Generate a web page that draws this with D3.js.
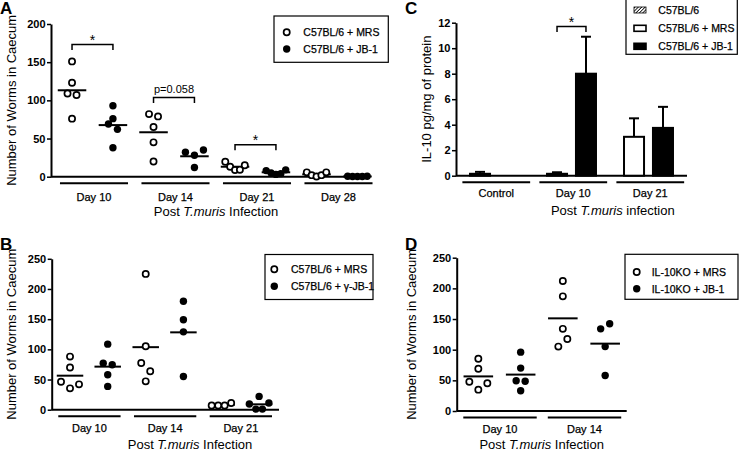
<!DOCTYPE html>
<html><head><meta charset="utf-8">
<script src="https://cdn.jsdelivr.net/npm/d3@7"></script>
<style>
body{margin:0;background:#fff}
svg{display:block}
text{font-family:"Liberation Sans",Arial,Helvetica,sans-serif;fill:#000}
</style>
</head><body>
<svg id="c" width="740" height="452"></svg>
<script>
// ---------- DATA ----------
// Panel A
const daysA = ["Day 10", "Day 14", "Day 21", "Day 28"];
const seriesA = ["C57BL/6 + MRS", "C57BL/6 + JB-1"];
const mrsA = [[151, 123, 109, 107, 76], [82, 79, 65, 45, 20], [19.6, 13, 8.7, 9, 15], [5.7, 2, 0.3, 2, 5.7]];
const jbA = [[93, 76, 69, 62, 38], [32, 28, 35, 12], [8, 5, 3, 4, 9], [0.5, 0.2, 0.2, 0.2, 0.5]];
const sigA = [{group: 0, level: 173, label: "*"}, {group: 1, level: 103.6, label: "p=0.058"}, {group: 2, level: 42, label: "*"}];
const ticksA = [0, 50, 100, 150, 200];

// Panel B
const daysB = ["Day 10", "Day 14", "Day 21"];
const seriesB = ["C57BL/6 + MRS", "C57BL/6 + \u03b3-JB-1"];
const mrsB = [[88, 70, 46.4, 35.4, 42], [225, 105, 77.4, 63.6, 47], [7, 7, 7, 11]];
const jbB = [[108.6, 77, 74.5, 58, 38.6], [179.6, 149, 129, 55], [9.5, 22, 1, 1, 11]];
const ticksB = [0, 50, 100, 150, 200, 250];

// Panel C
const groupsC = ["Control", "Day 10", "Day 21"];
const seriesC = ["C57BL/6", "C57BL/6 + MRS", "C57BL/6 + JB-1"];
const barsC = [
  {group: "Control", series: "C57BL/6", value: 0.15, err: 0.15},
  {group: "Day 10", series: "C57BL/6 + MRS", value: 0.15, err: 0.12},
  {group: "Day 10", series: "C57BL/6 + JB-1", value: 8.0, err: 2.9},
  {group: "Day 21", series: "C57BL/6 + MRS", value: 3.05, err: 1.45},
  {group: "Day 21", series: "C57BL/6 + JB-1", value: 3.75, err: 1.65}
];
const sigC = [{group: "Day 10", level: 11.7, label: "*"}];
const ticksC = [0, 2, 4, 6, 8, 10, 12];

// Panel D
const daysD = ["Day 10", "Day 14"];
const seriesD = ["IL-10KO + MRS", "IL-10KO + JB-1"];
const mrsD = [[85.3, 69, 47.8, 34.8, 45.2], [212, 187, 134, 105, 117.5]];
const jbD = [[96, 70, 49.4, 48.4, 33], [134, 142.4, 105, 58]];
const ticksD = [0, 50, 100, 150, 200, 250];

// ---------- DRAWING ----------
const FONT = '"Liberation Sans", Arial, Helvetica, sans-serif';
const svg = d3.select("#c");
const defs = svg.append("defs");
const pat = defs.append("pattern").attr("id", "hatch").attr("patternUnits", "userSpaceOnUse")
  .attr("width", 2.4).attr("height", 2.4).attr("patternTransform", "rotate(45)");
pat.append("rect").attr("width", 2.4).attr("height", 2.4).attr("fill", "#fff");
pat.append("line").attr("x1", 0).attr("y1", 0).attr("x2", 0).attr("y2", 2.4).attr("stroke", "#000").attr("stroke-width", 1.6);

function yAxis(x, y, ticks) {
  const ax = d3.axisLeft(y).tickValues(ticks).tickSize(4).tickSizeOuter(0).tickPadding(1.5);
  const a = svg.append("g").attr("transform", `translate(${x},0)`).call(ax);
  a.attr("font-family", FONT);
  a.select(".domain").attr("stroke", "#000").attr("stroke-width", 2);
  a.selectAll(".tick line").attr("stroke", "#000").attr("stroke-width", 1.5);
  a.selectAll(".tick text").attr("font-size", 11).attr("font-weight", "bold").attr("fill", "#000");
}

function titleText(x, y, word) {
  const t = svg.append("text").attr("x", x).attr("y", y).attr("text-anchor", "middle").attr("font-size", 13);
  t.append("tspan").text("Post ");
  t.append("tspan").attr("font-style", "italic").text("T.muris");
  t.append("tspan").text(" " + word);
}

function yTitle(x, y, txt) {
  svg.append("text").attr("transform", `translate(${x},${y}) rotate(-90)`)
    .attr("text-anchor", "middle").attr("font-size", 13).text(txt);
}

function letter(x, y, L) {
  svg.append("text").attr("x", x).attr("y", y).attr("font-size", 17).attr("font-weight", "bold").text(L);
}

function groupLines(xg, groups, frac, lineY, labelY) {
  groups.forEach(gname => {
    const x0 = xg(gname), bw = xg.bandwidth();
    svg.append("line").attr("x1", x0 + frac[0] * bw).attr("x2", x0 + frac[1] * bw)
      .attr("y1", lineY).attr("y2", lineY).attr("stroke", "#000").attr("stroke-width", 2);
    svg.append("text").attr("x", x0 + (frac[0] + frac[1]) / 2 * bw).attr("y", labelY)
      .attr("text-anchor", "middle").attr("font-size", 11)
      .attr("stroke", "#000").attr("stroke-width", 0.25).text(gname);
  });
}

// arrange points in rows like GraphPad scatter
function swarm(values, y, cx) {
  const T = 9, s0 = 9, maxSpan = 19.5;
  const pts = values.map((v, i) => ({v, i, y: y(v)}));
  const sorted = pts.slice().sort((a, b) => b.y - a.y);
  const rows = [];
  let cur = null;
  sorted.forEach(p => {
    if (cur && cur.first - p.y < T) cur.pts.push(p);
    else { cur = {first: p.y, pts: [p]}; rows.push(cur); }
  });
  rows.forEach(r => {
    r.pts.sort((a, b) => a.i - b.i);
    const n = r.pts.length;
    const sp = n > 1 ? Math.min(s0, maxSpan / (n - 1)) : 0;
    r.pts.forEach((p, k) => { p.x = cx + (k - (n - 1) / 2) * sp; });
  });
  return pts;
}

function drawPoint(x, y, open) {
  if (open) svg.append("circle").attr("cx", x).attr("cy", y).attr("r", 3.1)
    .attr("fill", "#fff").attr("stroke", "#000").attr("stroke-width", 1.7);
  else svg.append("circle").attr("cx", x).attr("cy", y).attr("r", 3.7).attr("fill", "#000");
}

function legendBox(L, names, kind) {
  svg.append("rect").attr("x", L.x0).attr("y", L.y0).attr("width", L.x1 - L.x0).attr("height", L.y1 - L.y0)
    .attr("fill", "#fff").attr("stroke", "#000").attr("stroke-width", 1.2);
  names.forEach((nm, i) => {
    const ry = L.rows[i];
    if (kind === "dots") drawPoint(L.symX, ry, i === 0);
    else {
      const fills = ["url(#hatch)", "#fff", "#000"];
      svg.append("rect").attr("x", L.symX - 6).attr("y", ry - 3).attr("width", 12).attr("height", 6)
        .attr("fill", fills[i]).attr("stroke", "#000").attr("stroke-width", i === 0 ? 0.8 : 1.6);
    }
    svg.append("text").attr("x", L.textX).attr("y", ry + 3.8).attr("font-size", 10.5)
      .attr("stroke", "#000").attr("stroke-width", 0.25).text(nm);
  });
}

function bracket(xa, xb, yb, label) {
  svg.append("path").attr("d", `M${xa},${yb + 5.5}V${yb}H${xb}V${yb + 5.5}`)
    .attr("fill", "none").attr("stroke", "#000").attr("stroke-width", 1.5);
  const star = label === "*";
  svg.append("text").attr("x", (xa + xb) / 2).attr("y", star ? yb + 0.5 : yb - 4.5)
    .attr("text-anchor", "middle").attr("font-size", star ? 14 : 11).text(label);
}

function scatterPanel(c) {
  const y = d3.scaleLinear().domain([0, c.ticks[c.ticks.length - 1]]).range(c.yRange);
  const xg = d3.scaleBand().domain(c.groups).range(c.band);
  const bw = xg.bandwidth();
  const colX = (gi, s) => xg(c.groups[gi]) + c.colFrac[s] * bw;
  // x axis
  svg.append("line").attr("x1", c.axisX).attr("x2", c.axisEnd).attr("y1", y(0)).attr("y2", y(0))
    .attr("stroke", "#000").attr("stroke-width", 2);
  yAxis(c.axisX, y, c.ticks);
  groupLines(xg, c.groups, c.lineFrac, y(0) + 6.5, c.labelY);
  [c.open, c.filled].forEach((series, s) => {
    series.forEach((vals, gi) => {
      const cx = colX(gi, s);
      const m = d3.mean(vals);
      const w = 0.7 * bw / 2;
      svg.append("line").attr("x1", cx - w / 2).attr("x2", cx + w / 2).attr("y1", y(m)).attr("y2", y(m))
        .attr("stroke", "#000").attr("stroke-width", 2);
      swarm(vals, y, cx).forEach(p => drawPoint(p.x, p.y, s === 0));
    });
  });
  (c.sig || []).forEach(sg => bracket(colX(sg.group, 0), colX(sg.group, 1), y(sg.level), sg.label));
  titleText(c.titleX, c.titleY, "Infection");
  yTitle(c.yTitleX, (c.yRange[0] + c.yRange[1]) / 2, "Number of Worms in Caecum");
  letter(c.letterX, c.letterY, c.letter);
  legendBox(c.legend, c.names, "dots");
}

// Panel A
scatterPanel({
  letter: "A", letterX: 0, letterY: 14,
  ticks: ticksA, yRange: [176.7, 24], axisX: 51, axisEnd: 370,
  groups: daysA, band: [51, 377], colFrac: [0.258, 0.76], lineFrac: [0.11, 0.945],
  labelY: 201, titleX: 216, titleY: 216.3, yTitleX: 15.5,
  open: mrsA, filled: jbA, names: seriesA, sig: sigA,
  legend: {x0: 274, y0: 16, x1: 388.3, y1: 62.3, symX: 286.7, rows: [32.3, 49], textX: 303.3}
});

// Panel B
scatterPanel({
  letter: "B", letterX: 0, letterY: 250,
  ticks: ticksB, yRange: [409.7, 258.8], axisX: 51.7, axisEnd: 279,
  groups: daysB, band: [51.7, 278.8], colFrac: [0.242, 0.74], lineFrac: [0.087, 0.91],
  labelY: 431.7, titleX: 190, titleY: 448.5, yTitleX: 15.5,
  open: mrsB, filled: jbB, names: seriesB,
  legend: {x0: 265, y0: 254.5, x1: 373, y1: 299.5, symX: 274.3, rows: [269.3, 286.3], textX: 291}
});

// Panel D
scatterPanel({
  letter: "D", letterX: 405, letterY: 250,
  ticks: ticksD, yRange: [411, 257.7], axisX: 456.7, axisEnd: 626.7,
  groups: daysD, band: [456.7, 625.7], colFrac: [0.256, 0.757], lineFrac: [0.078, 0.947],
  labelY: 433.3, titleX: 541.7, titleY: 448.5, yTitleX: 416,
  open: mrsD, filled: jbD, names: seriesD,
  legend: {x0: 625, y0: 254.3, x1: 738, y1: 299.3, symX: 636.7, rows: [272, 288.7], textX: 651.7}
});

// Panel C
(function () {
  const y = d3.scaleLinear().domain([0, 12]).range([175.7, 22.7]);
  const xg = d3.scaleBand().domain(groupsC).range([457, 688]);
  const bw = xg.bandwidth();
  const slot = s => (s === seriesC[2] ? 1 : 0);
  const slotFrac = [0.169, 0.545], barW = 0.26 * bw;
  const fills = {"C57BL/6": "url(#hatch)", "C57BL/6 + MRS": "#fff", "C57BL/6 + JB-1": "#000"};
  svg.append("line").attr("x1", 456).attr("x2", 687).attr("y1", y(0)).attr("y2", y(0))
    .attr("stroke", "#000").attr("stroke-width", 2);
  barsC.forEach(b => {
    const x0 = xg(b.group) + slotFrac[slot(b.series)] * bw;
    const cx = x0 + barW / 2;
    svg.append("line").attr("x1", cx).attr("x2", cx).attr("y1", y(b.value)).attr("y2", y(b.value + b.err))
      .attr("stroke", "#000").attr("stroke-width", 2);
    svg.append("line").attr("x1", cx - 5).attr("x2", cx + 5).attr("y1", y(b.value + b.err)).attr("y2", y(b.value + b.err))
      .attr("stroke", "#000").attr("stroke-width", 2);
    svg.append("rect").attr("x", x0).attr("y", y(b.value)).attr("width", barW)
      .attr("height", y(0) - y(b.value)).attr("fill", fills[b.series]).attr("stroke", "#000").attr("stroke-width", 2);
  });
  yAxis(456, y, ticksC);
  groupLines(xg, groupsC, [0.07, 0.95], 182.3, 196.7);
  sigC.forEach(sg => {
    const x0 = xg(sg.group);
    bracket(x0 + slotFrac[0] * bw + barW / 2, x0 + slotFrac[1] * bw + barW / 2, y(sg.level), sg.label);
  });
  titleText(612.8, 215.3, "infection");
  yTitle(430.7, 99.2, "IL-10 pg/mg of protein");
  letter(405, 14, "C");
  legendBox({x0: 626, y0: -1, x1: 737.3, y1: 54.3, symX: 640, rows: [10, 28.3, 46.3], textX: 658.3}, seriesC, "bars");
})();
</script>
</body></html>
